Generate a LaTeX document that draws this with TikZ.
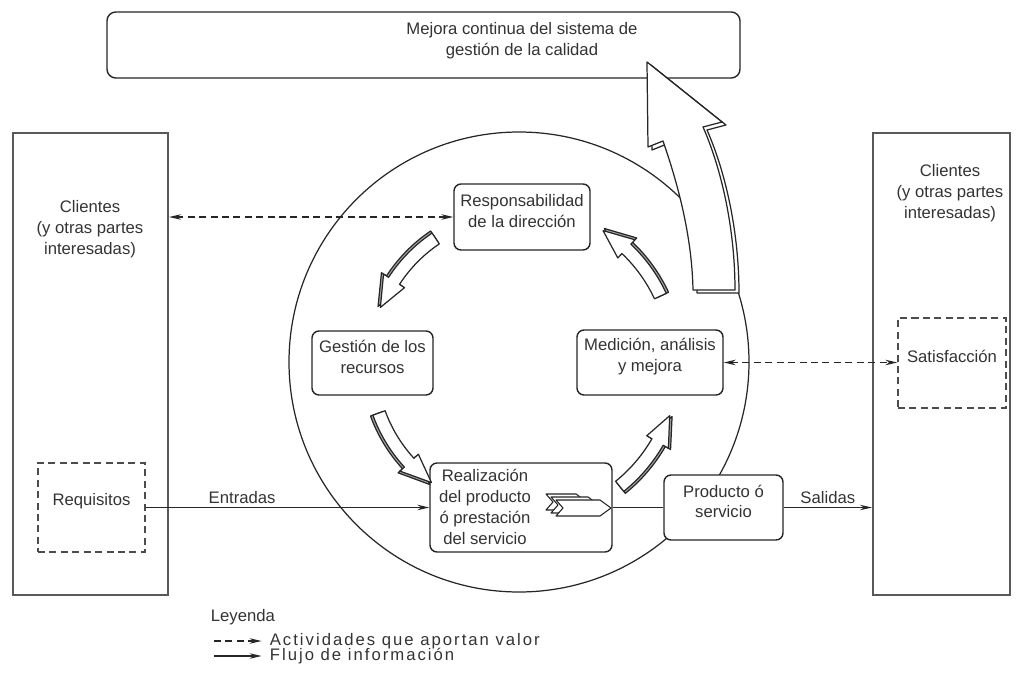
\documentclass[tikz,border=0pt]{standalone}
\usepackage{fontspec}
\setmainfont{Liberation Sans}
\usetikzlibrary{arrows.meta,fit}

\tikzset{
  letra/.style={font=\fontsize{9.5}{11.8}\selectfont, text=black!80},
  caja/.style={draw=black!85, line width=0.8pt, rounded corners=4pt, fill=white,
    inner sep=0pt, align=center, letra},
  cajapunteada/.style={draw=black!70, line width=0.8pt, dash pattern=on 4pt off 2.5pt,
    inner sep=0pt, align=center, letra},
  marco/.style={draw=black!65, line width=1.2pt, inner sep=0pt},
  texto/.style={align=center, letra, inner sep=2pt},
  flujo/.style={-{Stealth[length=2.4mm,width=1.1mm]}, line width=0.7pt, draw=black!85},
  actividad/.style={flujo, dash pattern=on 4pt off 2.5pt},
  ida vuelta/.style={{Stealth[length=2.4mm,width=1.1mm]}-{Stealth[length=2.4mm,width=1.1mm]},
    line width=0.7pt, draw=black!85, dash pattern=on 4pt off 2.5pt},
  bloque/.style={draw=black!85, line width=0.7pt, fill=white, line join=round},
  sombra/.style={draw=black!85, line width=0.7pt, fill=black!35, line join=round}
}

% flecha curva: estilo, radio, angulo inicial, base de la punta, punta
\newcommand{\trazoflecha}[5]{%
  \pgfmathsetmacro\rA{#2+6.5}\pgfmathsetmacro\rB{#2-6.5}%
  \pgfmathsetmacro\rC{#2+12.5}\pgfmathsetmacro\rD{#2-12.5}%
  \draw[#1] (#3:\rA) arc[start angle=#3, end angle=#4, radius=\rA]
    -- (#4:\rC) -- (#5:#2) -- (#4:\rD) -- (#4:\rB)
    arc[start angle=#4, end angle=#3, radius=\rB] -- cycle;}
\newcommand{\flechacurva}[4]{%
  \pgfmathsetmacro\rS{#1+2.5}%
  \trazoflecha{sombra}{\rS}{#2}{#3}{#4}%
  \trazoflecha{bloque}{#1}{#2}{#3}{#4}}

\begin{document}
\begin{tikzpicture}[x=0.02cm,y=-0.02cm]
  \useasboundingbox (0,0) rectangle (1022,680);

  % ciclo
  \draw[line width=0.7pt, black!85] (519,362) circle [radius=230];

  % clientes a ambos lados
  \node[marco, fit={(13,133) (168,595)}] (clientesizq) {};
  \node[texto] (clientesizqtxt) at (90,229) {Clientes\\(y otras partes\\interesadas)};
  \node[marco, fit={(873,133) (1010,595)}] (clientesder) {};
  \node[texto] (clientesdertxt) at (950,193) {Clientes\\(y otras partes\\interesadas)};
  \node[cajapunteada, fit={(38,463) (145,552)}] (requisitos) {Requisitos};
  \node[cajapunteada, fit={(898,318) (1006,408)}] (satisf) {Satisfacción};

  % procesos
  \node[caja, rounded corners=5pt, fit={(107,12) (740,78)}] (mejora) {};
  \node[texto] (mejoratxt) at (522,41) {Mejora continua del sistema de\\gestión de la calidad};
  \node[caja, fit={(454,184) (590,250)}] (resp) {Responsabilidad\\de la dirección};
  \node[caja, fit={(312,331) (433,395)}] (recursos) {Gestión de los\\recursos};
  \node[caja, fit={(577,330) (723,395)}] (medicion) {Medición, análisis\\y mejora};
  \node[caja, fit={(430,463) (612,552)}] (realiz) {};
  \node[texto] (realiztxt) at (485,507) {Realización\\del producto\\ó prestación\\del servicio};
  \node[caja, fit={(664,475) (783,540)}] (producto) {Producto ó\\servicio};

  % chevrones dentro de la realizacion
  \foreach \d/\l in {10/30, 5/37, 0/44} {
    \draw[bloque, line width=0.6pt] (556-\d,500-\d*0.6) -- (556+\l-\d,500-\d*0.6)
      -- (611-44+\l-\d,508-\d*0.6) -- (556+\l-\d,516-\d*0.6) -- (556-\d,516-\d*0.6)
      -- (563-\d,508-\d*0.6) -- cycle;
  }

  % conectores
  \draw[ida vuelta] (resp.west) -- (resp.west -| clientesizq.east);
  \draw[ida vuelta] (medicion.east) -- (medicion.east -| satisf.west);
  \draw[flujo] (requisitos.east) -- (requisitos.east -| realiz.west)
    node[pos=.34, above, letra, inner sep=2pt] (entradas) {Entradas};
  \draw[line width=0.7pt, black!85] (realiz.east) -- (realiz.east -| producto.west);
  \draw[flujo] (producto.east) -- (producto.east -| clientesder.west)
    node[midway, above, letra, inner sep=2pt] (salidas) {Salidas};

  % flechas del ciclo
  \begin{scope}[shift={(519,362)}]
    \flechacurva{149}{-124}{-147}{-158.5}
    \flechacurva{149}{-200}{-222.5}{-234}
    \flechacurva{160}{51}{30}{19.6}
    \flechacurva{156}{-25}{-46.5}{-57.4}
  \end{scope}

  % flecha de mejora continua
  \draw[bloque, shift={(4,3)}] (647,62) -- (648,147) -- (663,141)
    .. controls (680,190) and (692,240) .. (693,290) -- (735,290)
    .. controls (735,230) and (722,170) .. (703,127) -- (722,122) -- cycle;
  \draw[bloque] (647,62) -- (648,147) -- (663,141)
    .. controls (680,190) and (692,240) .. (693,290) -- (735,290)
    .. controls (735,230) and (722,170) .. (703,127) -- (722,122) -- cycle;

  % leyenda
  \node[texto, anchor=west] (leyenda) at (207,617) {Leyenda};
  \coordinate (lgact) at (214,641);
  \coordinate (lgflu) at (214,656);
  \node[texto, anchor=west, font=\fontsize{9.5}{11.8}\selectfont\addfontfeatures{LetterSpace=12}]
    (actividades) at (266,641) {Actividades que aportan valor};
  \node[texto, anchor=west, font=\fontsize{9.5}{11.8}\selectfont\addfontfeatures{LetterSpace=12}]
    (informacion) at (266,656) {Flujo de información};
  \draw[actividad, shorten >=2.5pt] (lgact) -- (actividades.west);
  \draw[flujo, shorten >=2.5pt] (lgflu) -- (informacion.west);
\end{tikzpicture}
\end{document}
